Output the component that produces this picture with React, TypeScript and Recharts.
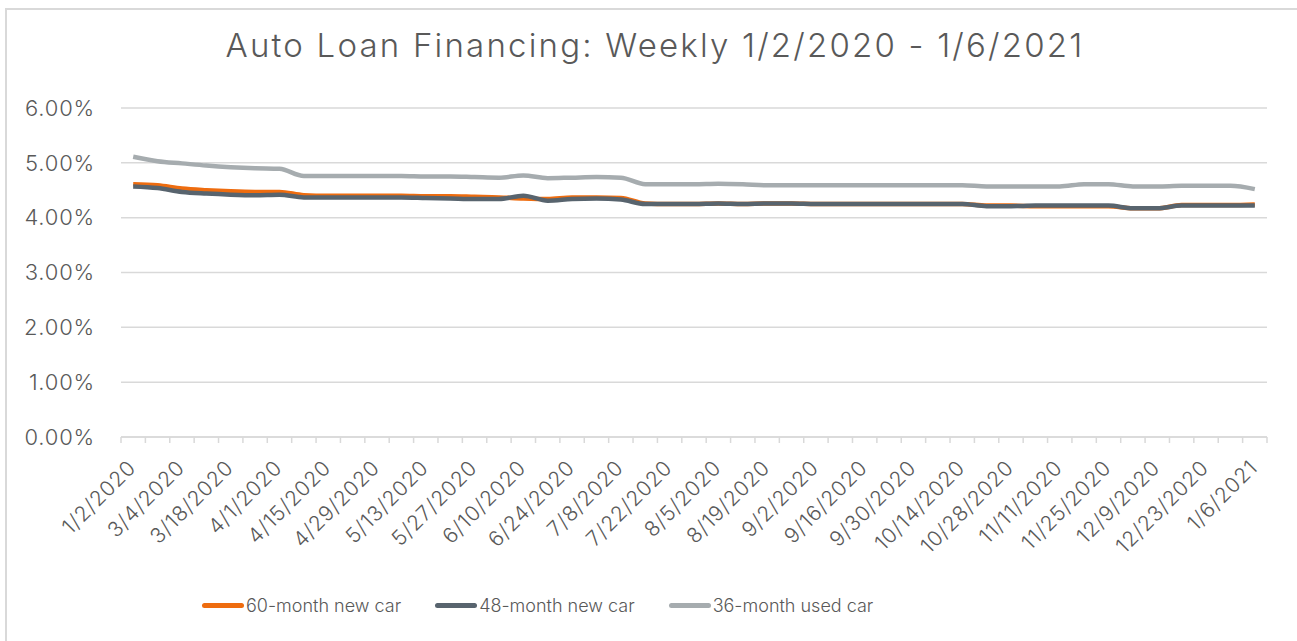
import React from 'react'
import { LineChart, Line, XAxis, YAxis, CartesianGrid, Legend } from 'recharts'

// weekly dates (the 2nd point is hidden between labels in the source chart)
const dates = [
  '1/2/2020', '2/26/2020', '3/4/2020', '3/11/2020', '3/18/2020', '3/25/2020', '4/1/2020', '4/8/2020',
  '4/15/2020', '4/22/2020', '4/29/2020', '5/6/2020', '5/13/2020', '5/20/2020', '5/27/2020', '6/3/2020',
  '6/10/2020', '6/17/2020', '6/24/2020', '7/1/2020', '7/8/2020', '7/15/2020', '7/22/2020', '7/29/2020',
  '8/5/2020', '8/12/2020', '8/19/2020', '8/26/2020', '9/2/2020', '9/9/2020', '9/16/2020', '9/23/2020',
  '9/30/2020', '10/7/2020', '10/14/2020', '10/21/2020', '10/28/2020', '11/4/2020', '11/11/2020', '11/18/2020',
  '11/25/2020', '12/2/2020', '12/9/2020', '12/16/2020', '12/23/2020', '12/30/2020', '1/6/2021',
]

const newCar60 = [
  4.61, 4.59, 4.53, 4.50, 4.48, 4.47, 4.47, 4.41, 4.40, 4.40, 4.40, 4.40, 4.39, 4.39, 4.38, 4.37,
  4.35, 4.34, 4.37, 4.37, 4.36, 4.26, 4.25, 4.25, 4.26, 4.25, 4.26, 4.26, 4.25, 4.25, 4.25, 4.25,
  4.25, 4.25, 4.25, 4.22, 4.22, 4.21, 4.21, 4.21, 4.21, 4.17, 4.17, 4.23, 4.23, 4.23, 4.24,
]

const newCar48 = [
  4.57, 4.54, 4.47, 4.44, 4.42, 4.41, 4.42, 4.37, 4.37, 4.37, 4.37, 4.37, 4.36, 4.35, 4.34, 4.34,
  4.40, 4.31, 4.34, 4.35, 4.33, 4.25, 4.25, 4.25, 4.26, 4.25, 4.26, 4.26, 4.25, 4.25, 4.25, 4.25,
  4.25, 4.25, 4.25, 4.21, 4.21, 4.22, 4.22, 4.22, 4.22, 4.17, 4.17, 4.22, 4.22, 4.22, 4.22,
]

const usedCar36 = [
  5.11, 5.03, 4.99, 4.95, 4.92, 4.90, 4.89, 4.76, 4.76, 4.76, 4.76, 4.76, 4.75, 4.75, 4.74, 4.73,
  4.77, 4.72, 4.73, 4.74, 4.73, 4.61, 4.61, 4.61, 4.62, 4.61, 4.59, 4.59, 4.59, 4.59, 4.59, 4.59,
  4.59, 4.59, 4.59, 4.57, 4.57, 4.57, 4.57, 4.61, 4.61, 4.57, 4.57, 4.58, 4.58, 4.58, 4.52,
]

const yTicks = [0, 1, 2, 3, 4, 5, 6]

const seriesInfo = [
  { key: 'm60', name: '60-month new car', color: '#ee6c0f' },
  { key: 'm48', name: '48-month new car', color: '#58646e' },
  { key: 'm36', name: '36-month used car', color: '#a6acaf' },
]

const data = dates.map((d, i) => ({ date: d, m60: newCar60[i], m48: newCar48[i], m36: usedCar36[i] }))

const FONT = 'Inter, "Open Sans", sans-serif'
const TEXT = '#595959'
const GRID = '#d9d9d9'
const PLOT_LEFT = 121
const PLOT_RIGHT = 1267
const AXIS_Y = 437
const BAND = (PLOT_RIGHT - PLOT_LEFT) / dates.length

const XTick = (props: any) => {
  const { x, y, payload, index } = props
  const half = BAND / 2
  return (
    <g>
      <line x1={x - half} x2={x - half} y1={AXIS_Y} y2={AXIS_Y + 6} stroke={GRID} strokeWidth={1.5} />
      {index === dates.length - 1 && (
        <line x1={x + half} x2={x + half} y1={AXIS_Y} y2={AXIS_Y + 6} stroke={GRID} strokeWidth={1.5} />
      )}
      {index % 2 === 0 && (
        <text
          transform={`translate(${x + 4},${y + 26}) rotate(-45)`}
          textAnchor="end"
          fill={TEXT}
          fontSize={21}
          fontWeight={300}
          letterSpacing={0.8}
          fontFamily={FONT}
        >
          {payload.value}
        </text>
      )}
    </g>
  )
}

const LegendBox = () => (
  <div style={{ display: 'flex', alignItems: 'center', fontFamily: FONT, fontSize: 18, fontWeight: 300, color: TEXT }}>
    {seriesInfo.map((s) => (
      <div key={s.key} style={{ display: 'flex', alignItems: 'center', marginRight: 34 }}>
        <div style={{ width: 42, height: 5, borderRadius: 3, background: s.color, marginRight: 2 }} />
        <span>{s.name}</span>
      </div>
    ))}
  </div>
)

export default function App() {
  return (
    <div style={{ position: 'absolute', left: 0, top: 0, width: 1297, height: 641, background: '#fff' }}>
      <div
        style={{
          position: 'absolute', left: 5, top: 8, right: 0, bottom: 0,
          borderTop: `2px solid ${GRID}`, borderLeft: `2px solid ${GRID}`,
        }}
      />
      <div
        style={{
          position: 'absolute', left: 0, top: 25, width: 1310, textAlign: 'center',
          fontFamily: FONT, fontSize: 33, fontWeight: 300, letterSpacing: 2.2, color: TEXT,
        }}
      >
        Auto Loan Financing: Weekly 1/2/2020 - 1/6/2021
      </div>
      <LineChart width={1297} height={641} data={data} margin={{ top: 108, right: 30, left: 0, bottom: 54 }}>
        <CartesianGrid horizontal vertical={false} stroke={GRID} strokeWidth={1.5} />
        <XAxis
          dataKey="date"
          interval={0}
          height={150}
          padding={{ left: BAND / 2, right: BAND / 2 }}
          axisLine={{ stroke: GRID, strokeWidth: 1.5 }}
          tickLine={false}
          tickSize={6}
          tickMargin={0}
          tick={<XTick />}
        />
        <YAxis
          width={121}
          domain={[0, 6]}
          ticks={yTicks}
          axisLine={false}
          tickLine={false}
          tickMargin={20}
          tickFormatter={(v: number) => `${v.toFixed(2)}%`}
          tick={{ fill: TEXT, fontSize: 22, fontWeight: 300, letterSpacing: 0.8, fontFamily: FONT }}
        />
        <Legend
          verticalAlign="middle"
          align="center"
          layout="horizontal"
          content={<LegendBox />}
          wrapperStyle={{ top: 595, left: 202, width: 'auto' }}
        />
        {seriesInfo.map((s) => (
          <Line
            key={s.key}
            type="monotone"
            dataKey={s.key}
            name={s.name}
            stroke={s.color}
            strokeWidth={4.5}
            dot={false}
            isAnimationActive={false}
          />
        ))}
      </LineChart>
    </div>
  )
}
